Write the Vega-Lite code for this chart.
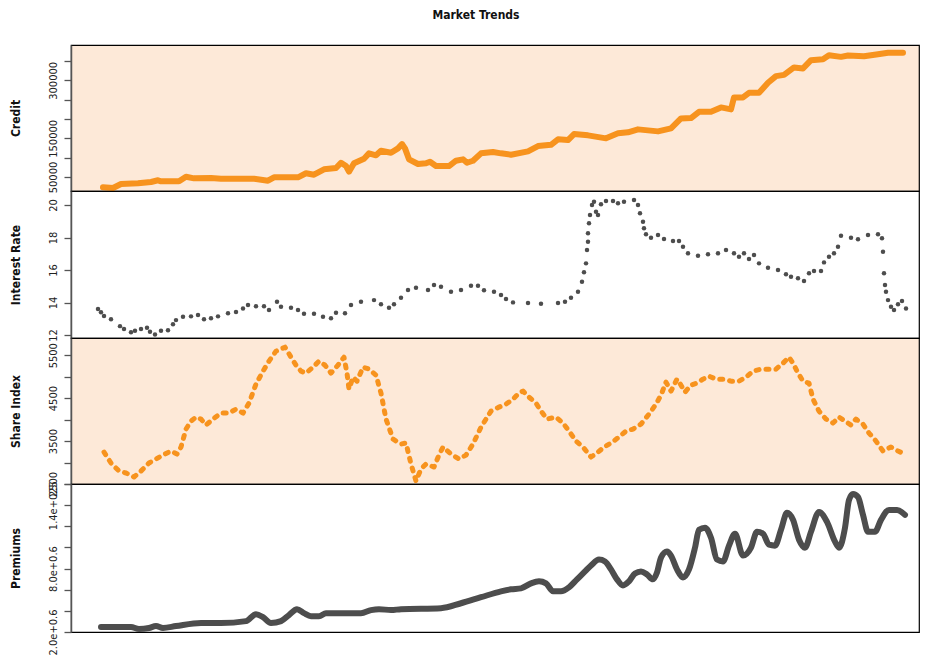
{
  "$schema": "https://vega.github.io/schema/vega-lite/v6.json",
  "padding": {"left": 8, "top": 9, "right": 5, "bottom": 5},
  "bounds": "flush",
  "title": {"text": "Market Trends", "fontSize": 12, "fontWeight": "bold", "font": "DejaVu Sans Condensed, Liberation Sans, sans-serif", "anchor": "middle", "offset": 22, "dx": 12, "color": "#111111"},
  "datasets": {
    "credit": [
      {"t": 32, "value": 23400}, {"t": 42, "value": 21600}, {"t": 50, "value": 31900}, {"t": 67, "value": 33700},
      {"t": 80, "value": 37100}, {"t": 87, "value": 41500}, {"t": 90, "value": 38900}, {"t": 108, "value": 38900},
      {"t": 115, "value": 50800}, {"t": 123, "value": 46600}, {"t": 140, "value": 47400}, {"t": 150, "value": 45600},
      {"t": 183, "value": 45600}, {"t": 197, "value": 40400}, {"t": 203, "value": 49200}, {"t": 227, "value": 49200},
      {"t": 235, "value": 59600}, {"t": 243, "value": 55900}, {"t": 253, "value": 69900}, {"t": 265, "value": 73200},
      {"t": 270, "value": 86900}, {"t": 275, "value": 78400}, {"t": 278, "value": 63700}, {"t": 283, "value": 85400},
      {"t": 293, "value": 97300}, {"t": 298, "value": 111200}, {"t": 305, "value": 106100}, {"t": 310, "value": 117900},
      {"t": 320, "value": 112800}, {"t": 327, "value": 124100}, {"t": 331, "value": 135200}, {"t": 334, "value": 124100},
      {"t": 338, "value": 95700}, {"t": 347, "value": 83600}, {"t": 355, "value": 85400}, {"t": 359, "value": 89500},
      {"t": 365, "value": 78400}, {"t": 378, "value": 78400}, {"t": 385, "value": 92100}, {"t": 392, "value": 95700},
      {"t": 396, "value": 86900}, {"t": 402, "value": 92100}, {"t": 410, "value": 111200}, {"t": 422, "value": 114600},
      {"t": 430, "value": 111200}, {"t": 440, "value": 107600}, {"t": 457, "value": 116400}, {"t": 467, "value": 130100},
      {"t": 480, "value": 133400}, {"t": 487, "value": 147400}, {"t": 497, "value": 145600}, {"t": 503, "value": 161100},
      {"t": 517, "value": 157700}, {"t": 535, "value": 150000}, {"t": 547, "value": 162900}, {"t": 557, "value": 165500},
      {"t": 567, "value": 173200}, {"t": 587, "value": 168000}, {"t": 600, "value": 175800}, {"t": 610, "value": 201600},
      {"t": 620, "value": 202400}, {"t": 628, "value": 218700}, {"t": 640, "value": 218700}, {"t": 650, "value": 230000},
      {"t": 660, "value": 224900}, {"t": 663, "value": 255900}, {"t": 672, "value": 255900}, {"t": 678, "value": 267700},
      {"t": 688, "value": 267700}, {"t": 697, "value": 293600}, {"t": 705, "value": 310900}, {"t": 713, "value": 314200},
      {"t": 723, "value": 333400}, {"t": 732, "value": 330800}, {"t": 740, "value": 352200}, {"t": 752, "value": 354800},
      {"t": 758, "value": 365100}, {"t": 770, "value": 360700}, {"t": 777, "value": 364400}, {"t": 793, "value": 362500},
      {"t": 807, "value": 367700}, {"t": 817, "value": 371100}, {"t": 832, "value": 371100}
    ],
    "rate": [
      {"t": 27, "value": 13.6}, {"t": 30, "value": 13.4}, {"t": 33, "value": 13.17}, {"t": 40, "value": 12.97},
      {"t": 49, "value": 12.55}, {"t": 53, "value": 12.37}, {"t": 60, "value": 12.17}, {"t": 64, "value": 12.26},
      {"t": 70, "value": 12.37}, {"t": 76, "value": 12.45}, {"t": 79, "value": 12.2}, {"t": 84, "value": 12.04},
      {"t": 90, "value": 12.26}, {"t": 97, "value": 12.29}, {"t": 102, "value": 12.66}, {"t": 105, "value": 12.92},
      {"t": 112, "value": 13.13}, {"t": 120, "value": 13.15}, {"t": 127, "value": 13.23}, {"t": 133, "value": 12.97},
      {"t": 140, "value": 13.03}, {"t": 147, "value": 13.15}, {"t": 157, "value": 13.34}, {"t": 165, "value": 13.42},
      {"t": 172, "value": 13.64}, {"t": 177, "value": 13.85}, {"t": 185, "value": 13.77}, {"t": 193, "value": 13.77},
      {"t": 198, "value": 13.54}, {"t": 206, "value": 14.05}, {"t": 210, "value": 13.74}, {"t": 220, "value": 13.68},
      {"t": 227, "value": 13.54}, {"t": 233, "value": 13.31}, {"t": 243, "value": 13.31}, {"t": 252, "value": 13.13},
      {"t": 260, "value": 13.03}, {"t": 265, "value": 13.37}, {"t": 274, "value": 13.34}, {"t": 280, "value": 13.85},
      {"t": 290, "value": 14.05}, {"t": 303, "value": 14.15}, {"t": 310, "value": 13.89}, {"t": 318, "value": 13.68},
      {"t": 323, "value": 13.89}, {"t": 330, "value": 14.3}, {"t": 337, "value": 14.77}, {"t": 345, "value": 14.91},
      {"t": 357, "value": 14.77}, {"t": 363, "value": 15.08}, {"t": 370, "value": 14.97}, {"t": 380, "value": 14.66},
      {"t": 390, "value": 14.77}, {"t": 400, "value": 15.03}, {"t": 407, "value": 15.03}, {"t": 413, "value": 14.75},
      {"t": 423, "value": 14.66}, {"t": 430, "value": 14.46}, {"t": 435, "value": 14.22}, {"t": 442, "value": 14.01},
      {"t": 457, "value": 13.97}, {"t": 470, "value": 13.93}, {"t": 487, "value": 13.97}, {"t": 494, "value": 14.05},
      {"t": 500, "value": 14.3}, {"t": 507, "value": 14.66}, {"t": 511, "value": 15.28}, {"t": 513, "value": 15.86},
      {"t": 515, "value": 16.41}, {"t": 516, "value": 17.23}, {"t": 517, "value": 17.74}, {"t": 517, "value": 18.26},
      {"t": 518, "value": 18.87}, {"t": 519, "value": 19.38}, {"t": 521, "value": 20.0}, {"t": 523, "value": 20.2},
      {"t": 525, "value": 19.59}, {"t": 527, "value": 19.38}, {"t": 530, "value": 20.04}, {"t": 535, "value": 20.25},
      {"t": 542, "value": 20.25}, {"t": 547, "value": 20.1}, {"t": 553, "value": 20.2}, {"t": 563, "value": 20.31},
      {"t": 567, "value": 20.0}, {"t": 569, "value": 19.49}, {"t": 572, "value": 18.97}, {"t": 573, "value": 18.57},
      {"t": 575, "value": 18.2}, {"t": 580, "value": 17.99}, {"t": 587, "value": 18.15}, {"t": 593, "value": 17.91},
      {"t": 602, "value": 17.78}, {"t": 608, "value": 17.78}, {"t": 612, "value": 17.43}, {"t": 617, "value": 17.03},
      {"t": 627, "value": 16.88}, {"t": 637, "value": 16.97}, {"t": 647, "value": 17.03}, {"t": 655, "value": 17.23},
      {"t": 663, "value": 17.03}, {"t": 668, "value": 16.82}, {"t": 673, "value": 17.03}, {"t": 678, "value": 16.68},
      {"t": 683, "value": 16.92}, {"t": 688, "value": 16.41}, {"t": 697, "value": 16.14}, {"t": 707, "value": 16.0},
      {"t": 715, "value": 15.74}, {"t": 720, "value": 15.59}, {"t": 727, "value": 15.49}, {"t": 733, "value": 15.32},
      {"t": 738, "value": 15.8}, {"t": 743, "value": 15.94}, {"t": 750, "value": 15.94}, {"t": 753, "value": 16.47},
      {"t": 758, "value": 16.82}, {"t": 763, "value": 17.03}, {"t": 767, "value": 17.43}, {"t": 770, "value": 18.11},
      {"t": 780, "value": 17.99}, {"t": 787, "value": 17.89}, {"t": 797, "value": 18.15}, {"t": 807, "value": 18.2},
      {"t": 811, "value": 17.95}, {"t": 812, "value": 17.13}, {"t": 813, "value": 15.8}, {"t": 814, "value": 15.08},
      {"t": 815, "value": 14.66}, {"t": 817, "value": 14.15}, {"t": 820, "value": 13.74}, {"t": 823, "value": 13.54},
      {"t": 827, "value": 13.89}, {"t": 831, "value": 14.09}, {"t": 835, "value": 13.64}
    ],
    "share": [
      {"t": 33, "value": 3244}, {"t": 40, "value": 2988}, {"t": 48, "value": 2802}, {"t": 55, "value": 2756},
      {"t": 63, "value": 2662}, {"t": 70, "value": 2802}, {"t": 78, "value": 2988}, {"t": 85, "value": 3081},
      {"t": 92, "value": 3174}, {"t": 100, "value": 3267}, {"t": 106, "value": 3197}, {"t": 110, "value": 3360},
      {"t": 115, "value": 3779}, {"t": 120, "value": 3965}, {"t": 125, "value": 4058}, {"t": 130, "value": 4012},
      {"t": 135, "value": 3872}, {"t": 142, "value": 4012}, {"t": 150, "value": 4151}, {"t": 158, "value": 4151},
      {"t": 165, "value": 4244}, {"t": 172, "value": 4151}, {"t": 178, "value": 4384}, {"t": 185, "value": 4826},
      {"t": 192, "value": 5128}, {"t": 198, "value": 5361}, {"t": 205, "value": 5593}, {"t": 214, "value": 5686},
      {"t": 220, "value": 5454}, {"t": 225, "value": 5268}, {"t": 230, "value": 5128}, {"t": 235, "value": 5082},
      {"t": 242, "value": 5221}, {"t": 248, "value": 5361}, {"t": 254, "value": 5268}, {"t": 260, "value": 5082},
      {"t": 267, "value": 5268}, {"t": 273, "value": 5454}, {"t": 276, "value": 5082}, {"t": 278, "value": 4709},
      {"t": 282, "value": 4988}, {"t": 286, "value": 4895}, {"t": 292, "value": 5221}, {"t": 298, "value": 5175},
      {"t": 305, "value": 5035}, {"t": 310, "value": 4616}, {"t": 315, "value": 4012}, {"t": 322, "value": 3546},
      {"t": 330, "value": 3430}, {"t": 335, "value": 3453}, {"t": 340, "value": 2965}, {"t": 345, "value": 2569},
      {"t": 350, "value": 2849}, {"t": 355, "value": 2965}, {"t": 363, "value": 2895}, {"t": 368, "value": 3174},
      {"t": 372, "value": 3360}, {"t": 380, "value": 3197}, {"t": 388, "value": 3081}, {"t": 395, "value": 3174},
      {"t": 402, "value": 3430}, {"t": 410, "value": 3825}, {"t": 420, "value": 4198}, {"t": 428, "value": 4291},
      {"t": 435, "value": 4360}, {"t": 442, "value": 4477}, {"t": 448, "value": 4616}, {"t": 452, "value": 4663},
      {"t": 458, "value": 4523}, {"t": 465, "value": 4384}, {"t": 470, "value": 4198}, {"t": 476, "value": 4012},
      {"t": 485, "value": 4058}, {"t": 492, "value": 3919}, {"t": 498, "value": 3732}, {"t": 505, "value": 3500},
      {"t": 512, "value": 3360}, {"t": 520, "value": 3128}, {"t": 526, "value": 3221}, {"t": 533, "value": 3360},
      {"t": 540, "value": 3453}, {"t": 548, "value": 3593}, {"t": 555, "value": 3732}, {"t": 562, "value": 3779},
      {"t": 570, "value": 3895}, {"t": 578, "value": 4128}, {"t": 585, "value": 4360}, {"t": 590, "value": 4570},
      {"t": 595, "value": 4872}, {"t": 600, "value": 4663}, {"t": 606, "value": 4942}, {"t": 610, "value": 4802},
      {"t": 614, "value": 4640}, {"t": 620, "value": 4802}, {"t": 626, "value": 4849}, {"t": 632, "value": 4942},
      {"t": 638, "value": 5012}, {"t": 645, "value": 4942}, {"t": 652, "value": 4942}, {"t": 660, "value": 4895},
      {"t": 668, "value": 4895}, {"t": 675, "value": 4988}, {"t": 682, "value": 5128}, {"t": 690, "value": 5175},
      {"t": 698, "value": 5175}, {"t": 705, "value": 5175}, {"t": 712, "value": 5314}, {"t": 718, "value": 5454},
      {"t": 722, "value": 5314}, {"t": 727, "value": 5082}, {"t": 732, "value": 4895}, {"t": 738, "value": 4849},
      {"t": 742, "value": 4477}, {"t": 748, "value": 4198}, {"t": 755, "value": 4012}, {"t": 762, "value": 3919},
      {"t": 768, "value": 4058}, {"t": 774, "value": 3965}, {"t": 780, "value": 3872}, {"t": 785, "value": 4012},
      {"t": 792, "value": 3895}, {"t": 798, "value": 3686}, {"t": 805, "value": 3500}, {"t": 812, "value": 3267},
      {"t": 820, "value": 3360}, {"t": 827, "value": 3267}, {"t": 834, "value": 3197}
    ],
    "premiums": [
      {"t": 30, "value": 2470000}, {"t": 60, "value": 2470000}, {"t": 68, "value": 2280000}, {"t": 78, "value": 2380000},
      {"t": 85, "value": 2560000}, {"t": 92, "value": 2380000}, {"t": 105, "value": 2560000}, {"t": 130, "value": 2850000},
      {"t": 150, "value": 2850000}, {"t": 175, "value": 3030000}, {"t": 185, "value": 3690000}, {"t": 192, "value": 3410000},
      {"t": 200, "value": 2850000}, {"t": 210, "value": 3030000}, {"t": 218, "value": 3600000}, {"t": 226, "value": 4160000},
      {"t": 233, "value": 3780000}, {"t": 240, "value": 3500000}, {"t": 248, "value": 3500000}, {"t": 255, "value": 3780000},
      {"t": 290, "value": 3780000}, {"t": 300, "value": 4070000}, {"t": 308, "value": 4160000}, {"t": 320, "value": 4070000},
      {"t": 330, "value": 4160000}, {"t": 370, "value": 4250000}, {"t": 390, "value": 4720000}, {"t": 410, "value": 5290000},
      {"t": 430, "value": 5850000}, {"t": 440, "value": 6040000}, {"t": 450, "value": 6130000}, {"t": 460, "value": 6600000},
      {"t": 468, "value": 6790000}, {"t": 475, "value": 6600000}, {"t": 482, "value": 5850000}, {"t": 490, "value": 5850000},
      {"t": 498, "value": 6230000}, {"t": 506, "value": 6980000}, {"t": 514, "value": 7730000}, {"t": 520, "value": 8290000},
      {"t": 528, "value": 8850000}, {"t": 534, "value": 8670000}, {"t": 540, "value": 7920000}, {"t": 546, "value": 6980000},
      {"t": 552, "value": 6410000}, {"t": 558, "value": 6790000}, {"t": 564, "value": 7540000}, {"t": 570, "value": 7730000},
      {"t": 576, "value": 7450000}, {"t": 582, "value": 6980000}, {"t": 586, "value": 7630000}, {"t": 590, "value": 9040000},
      {"t": 596, "value": 9610000}, {"t": 600, "value": 9230000}, {"t": 606, "value": 7920000}, {"t": 612, "value": 7160000},
      {"t": 618, "value": 7920000}, {"t": 624, "value": 9980000}, {"t": 628, "value": 11670000}, {"t": 634, "value": 11860000},
      {"t": 640, "value": 10920000}, {"t": 646, "value": 8850000}, {"t": 652, "value": 8670000}, {"t": 658, "value": 10170000},
      {"t": 664, "value": 11300000}, {"t": 672, "value": 9230000}, {"t": 680, "value": 9980000}, {"t": 686, "value": 11480000},
      {"t": 692, "value": 11300000}, {"t": 698, "value": 10260000}, {"t": 704, "value": 10170000}, {"t": 710, "value": 11670000},
      {"t": 716, "value": 13270000}, {"t": 722, "value": 12610000}, {"t": 728, "value": 10730000}, {"t": 734, "value": 9980000},
      {"t": 740, "value": 11480000}, {"t": 748, "value": 13360000}, {"t": 756, "value": 12420000}, {"t": 764, "value": 10550000},
      {"t": 768, "value": 9980000}, {"t": 774, "value": 11860000}, {"t": 778, "value": 14490000}, {"t": 782, "value": 15050000},
      {"t": 787, "value": 14770000}, {"t": 792, "value": 13080000}, {"t": 797, "value": 11480000}, {"t": 804, "value": 11480000},
      {"t": 810, "value": 12610000}, {"t": 818, "value": 13550000}, {"t": 826, "value": 13550000}, {"t": 834, "value": 13080000}
    ]
  },
  "vconcat": [
    {
      "width": 848, "height": 146,
      "view": {"fill": "#FDE9D8", "stroke": "#000000", "strokeWidth": 1.2},
      "data": {"name": "credit"},
      "mark": {"type": "line", "color": "#F7931E", "strokeWidth": 6, "strokeCap": "round", "strokeJoin": "round"},
      "encoding": {
        "x": {"field": "t", "type": "quantitative", "scale": {"domain": [0, 848], "nice": false, "zero": false}, "axis": null},
        "y": {"field": "value", "type": "quantitative", "scale": {"domain": [13800, 391400], "nice": false, "zero": false},
              "axis": {"title": "Credit", "values": [50000, 100000, 150000, 200000, 250000, 300000, 350000], "format": "d",
                       "labelExpr": "indexof([50000, 150000, 300000], datum.value) >= 0 ? datum.label : ''"}}
      }
    },
    {
      "width": 848, "height": 147,
      "view": {"fill": "#FFFFFF", "stroke": "#000000", "strokeWidth": 1.2},
      "data": {"name": "rate"},
      "mark": {"type": "circle", "color": "#4D4D4D", "size": 20, "opacity": 1},
      "encoding": {
        "x": {"field": "t", "type": "quantitative", "scale": {"domain": [0, 848], "nice": false, "zero": false}, "axis": null},
        "y": {"field": "value", "type": "quantitative", "scale": {"domain": [11.82, 20.86], "nice": false, "zero": false},
              "axis": {"title": "Interest Rate", "values": [12, 14, 16, 18, 20], "format": "d"}}
      }
    },
    {
      "width": 848, "height": 146,
      "view": {"fill": "#FDE9D8", "stroke": "#000000", "strokeWidth": 1.2},
      "data": {"name": "share"},
      "mark": {"type": "line", "color": "#F7931E", "strokeWidth": 5, "strokeDash": [3, 7], "strokeCap": "round", "strokeJoin": "round"},
      "encoding": {
        "x": {"field": "t", "type": "quantitative", "scale": {"domain": [0, 848], "nice": false, "zero": false}, "axis": null},
        "y": {"field": "value", "type": "quantitative", "scale": {"domain": [2500, 5900], "nice": false, "zero": false},
              "axis": {"title": "Share Index", "values": [2500, 3000, 3500, 4000, 4500, 5000, 5500], "format": "d",
                       "labelExpr": "indexof([2500, 3500, 4500, 5500], datum.value) >= 0 ? datum.label : ''"}}
      }
    },
    {
      "width": 848, "height": 148,
      "view": {"fill": "#FFFFFF", "stroke": "#000000", "strokeWidth": 1.2},
      "data": {"name": "premiums"},
      "mark": {"type": "line", "color": "#4D4D4D", "strokeWidth": 6, "strokeCap": "round", "strokeJoin": "round", "interpolate": "monotone"},
      "encoding": {
        "x": {"field": "t", "type": "quantitative", "scale": {"domain": [0, 848], "nice": false, "zero": false}, "axis": null},
        "y": {"field": "value", "type": "quantitative", "scale": {"domain": [2000000, 16000000], "nice": false, "zero": false},
              "axis": {"title": "Premiums", "values": [2000000, 4000000, 6000000, 8000000, 10000000, 12000000, 14000000, 16000000],
                       "labelExpr": "datum.value == 2000000 ? '2.0e+0.6' : datum.value == 8000000 ? '8.0e+0.6' : datum.value == 14000000 ? '1.4e+025' : ''"}}
      }
    }
  ],
  "config": {
    "font": "DejaVu Sans Condensed, Liberation Sans, sans-serif",
    "concat": {"spacing": 0},
    "axisY": {
      "grid": false,
      "domainColor": "#555555", "domainWidth": 1.5,
      "tickColor": "#555555", "tickSize": 7, "tickWidth": 1.3,
      "labelAngle": 270, "labelAlign": "center", "labelBaseline": "bottom",
      "labelFont": "DejaVu Sans Condensed, Liberation Sans, sans-serif", "labelFontSize": 11, "labelColor": "#222222", "labelPadding": 6,
      "labelOverlap": false, "labelBound": false, "labelFlush": false,
      "titleFont": "DejaVu Sans Condensed, Liberation Sans, sans-serif", "titleFontSize": 12, "titleFontWeight": "bold", "titleColor": "#111111",
      "titleX": -49, "titleBaseline": "bottom", "titleAngle": 270
    }
  }
}
